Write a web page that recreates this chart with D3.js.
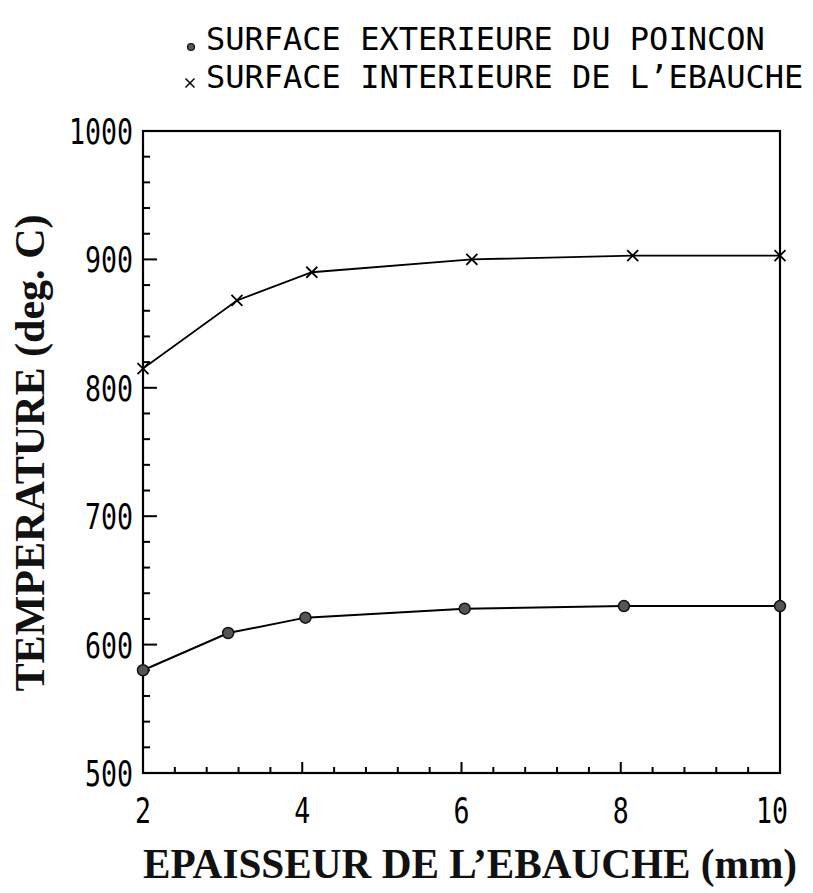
<!DOCTYPE html>
<html>
<head>
<meta charset="utf-8">
<script src="https://cdn.jsdelivr.net/npm/d3@7"></script>
<style>
  html, body { margin: 0; padding: 0; background: #fff; }
  svg { display: block; }
</style>
</head>
<body>
<div id="chart"></div>
<script>
// ---- data ----
const xTickLabels = [2, 4, 6, 8, 10];
const yTickLabels = [500, 600, 700, 800, 900, 1000];
const poinconX = [2, 3.07, 4.04, 6.04, 8.04, 10];
const poinconY = [580, 609, 621, 628, 630, 630];
const ebaucheX = [2, 3.18, 4.12, 6.13, 8.15, 10];
const ebaucheY = [815, 868, 890, 900, 903, 903];
const legendLabels = ["SURFACE EXTERIEURE DU POINCON", "SURFACE INTERIEURE DE L\u2019EBAUCHE"];
const xTitle = "EPAISSEUR DE L\u2019EBAUCHE (mm)";
const yTitle = "TEMPERATURE (deg. C)";

const W = 813, H = 893;
const m = { left: 143, right: 780, top: 131, bottom: 773 };

const svg = d3.select("#chart").append("svg").attr("width", W).attr("height", H);

const x = d3.scaleLinear().domain([2, 10]).range([m.left, m.right]);
const y = d3.scaleLinear().domain([500, 1000]).range([m.bottom, m.top]);

const monoFont = "'DejaVu Sans Mono', monospace";
const serifFont = "'Liberation Serif', 'Times New Roman', serif";

// frame
svg.append("rect")
  .attr("x", m.left).attr("y", m.top)
  .attr("width", m.right - m.left).attr("height", m.bottom - m.top)
  .attr("fill", "none").attr("stroke", "#000").attr("stroke-width", 2.2);

// y ticks (inward)
const yMinor = y.ticks(25);
svg.append("g").selectAll("line").data(yMinor).join("line")
  .attr("x1", m.left)
  .attr("x2", d => m.left + (d % 100 === 0 ? 14 : 7))
  .attr("y1", d => y(d)).attr("y2", d => y(d))
  .attr("stroke", "#000").attr("stroke-width", 2);

// x ticks (inward)
const xMinor = d3.range(0, 21).map(i => 2 + i * 0.4);
svg.append("g").selectAll("line").data(xMinor).join("line")
  .attr("x1", d => x(d)).attr("x2", d => x(d))
  .attr("y1", m.bottom)
  .attr("y2", d => m.bottom - (Math.abs(d - Math.round(d)) < 1e-6 && Math.round(d) % 2 === 0 ? 11 : 6))
  .attr("stroke", "#000").attr("stroke-width", 2);

// y tick labels
svg.append("g").selectAll("text").data(yTickLabels).join("text")
  .attr("x", m.left - 10)
  .attr("y", d => y(d) + 13)
  .attr("text-anchor", "end")
  .attr("font-family", monoFont)
  .attr("font-size", 36)
  .attr("textLength", d => String(d).length * 16)
  .attr("lengthAdjust", "spacingAndGlyphs")
  .attr("fill", "#000")
  .text(d => d);

// x tick labels
svg.append("g").selectAll("text").data(xTickLabels).join("text")
  .attr("x", d => x(d) - (d === 10 ? 8 : 0))
  .attr("y", 823)
  .attr("text-anchor", "middle")
  .attr("font-family", monoFont)
  .attr("font-size", 36)
  .attr("textLength", d => String(d).length * 16)
  .attr("lengthAdjust", "spacingAndGlyphs")
  .attr("fill", "#000")
  .text(d => d);

// axis titles
svg.append("text")
  .attr("x", 470).attr("y", 878)
  .attr("text-anchor", "middle")
  .attr("font-family", serifFont)
  .attr("font-weight", "bold")
  .attr("font-size", 42)
  .attr("textLength", 654)
  .attr("lengthAdjust", "spacingAndGlyphs")
  .attr("fill", "#111")
  .text(xTitle);

svg.append("text")
  .attr("transform", "translate(44,453) rotate(-90)")
  .attr("text-anchor", "middle")
  .attr("font-family", serifFont)
  .attr("font-weight", "bold")
  .attr("font-size", 42)
  .attr("textLength", 477)
  .attr("lengthAdjust", "spacingAndGlyphs")
  .attr("fill", "#111")
  .text(yTitle);

// lines
const line = d3.line().x(d => x(d[0])).y(d => y(d[1]));
const poincon = poinconX.map((v, i) => [v, poinconY[i]]);
const ebauche = ebaucheX.map((v, i) => [v, ebaucheY[i]]);

svg.append("path").datum(poincon).attr("d", line)
  .attr("fill", "none").attr("stroke", "#000").attr("stroke-width", 2);
svg.append("path").datum(ebauche).attr("d", line)
  .attr("fill", "none").attr("stroke", "#000").attr("stroke-width", 1.8);

// markers
svg.append("g").selectAll("circle").data(poincon).join("circle")
  .attr("cx", d => x(d[0])).attr("cy", d => y(d[1]))
  .attr("r", 5.5)
  .attr("fill", "#555").attr("stroke", "#111").attr("stroke-width", 1.5);

const cross = (g, cx, cy, s) => {
  g.append("line").attr("x1", cx - s).attr("y1", cy - s).attr("x2", cx + s).attr("y2", cy + s);
  g.append("line").attr("x1", cx - s).attr("y1", cy + s).attr("x2", cx + s).attr("y2", cy - s);
};
const cg = svg.append("g").attr("stroke", "#000").attr("stroke-width", 1.8);
ebauche.forEach(d => cross(cg, x(d[0]), y(d[1]), 5.5));

// legend
const lg = svg.append("g");
lg.append("circle").attr("cx", 191).attr("cy", 47).attr("r", 3.5)
  .attr("fill", "#555").attr("stroke", "#111").attr("stroke-width", 1.2);
const lcg = lg.append("g").attr("stroke", "#000").attr("stroke-width", 1.5);
cross(lcg, 190, 83, 4.5);

lg.selectAll("text").data(legendLabels).join("text")
  .attr("x", 206)
  .attr("y", (d, i) => 50 + i * 38)
  .attr("font-family", monoFont)
  .attr("font-size", 32)
  .attr("fill", "#000")
  .text(d => d);
</script>
</body>
</html>
